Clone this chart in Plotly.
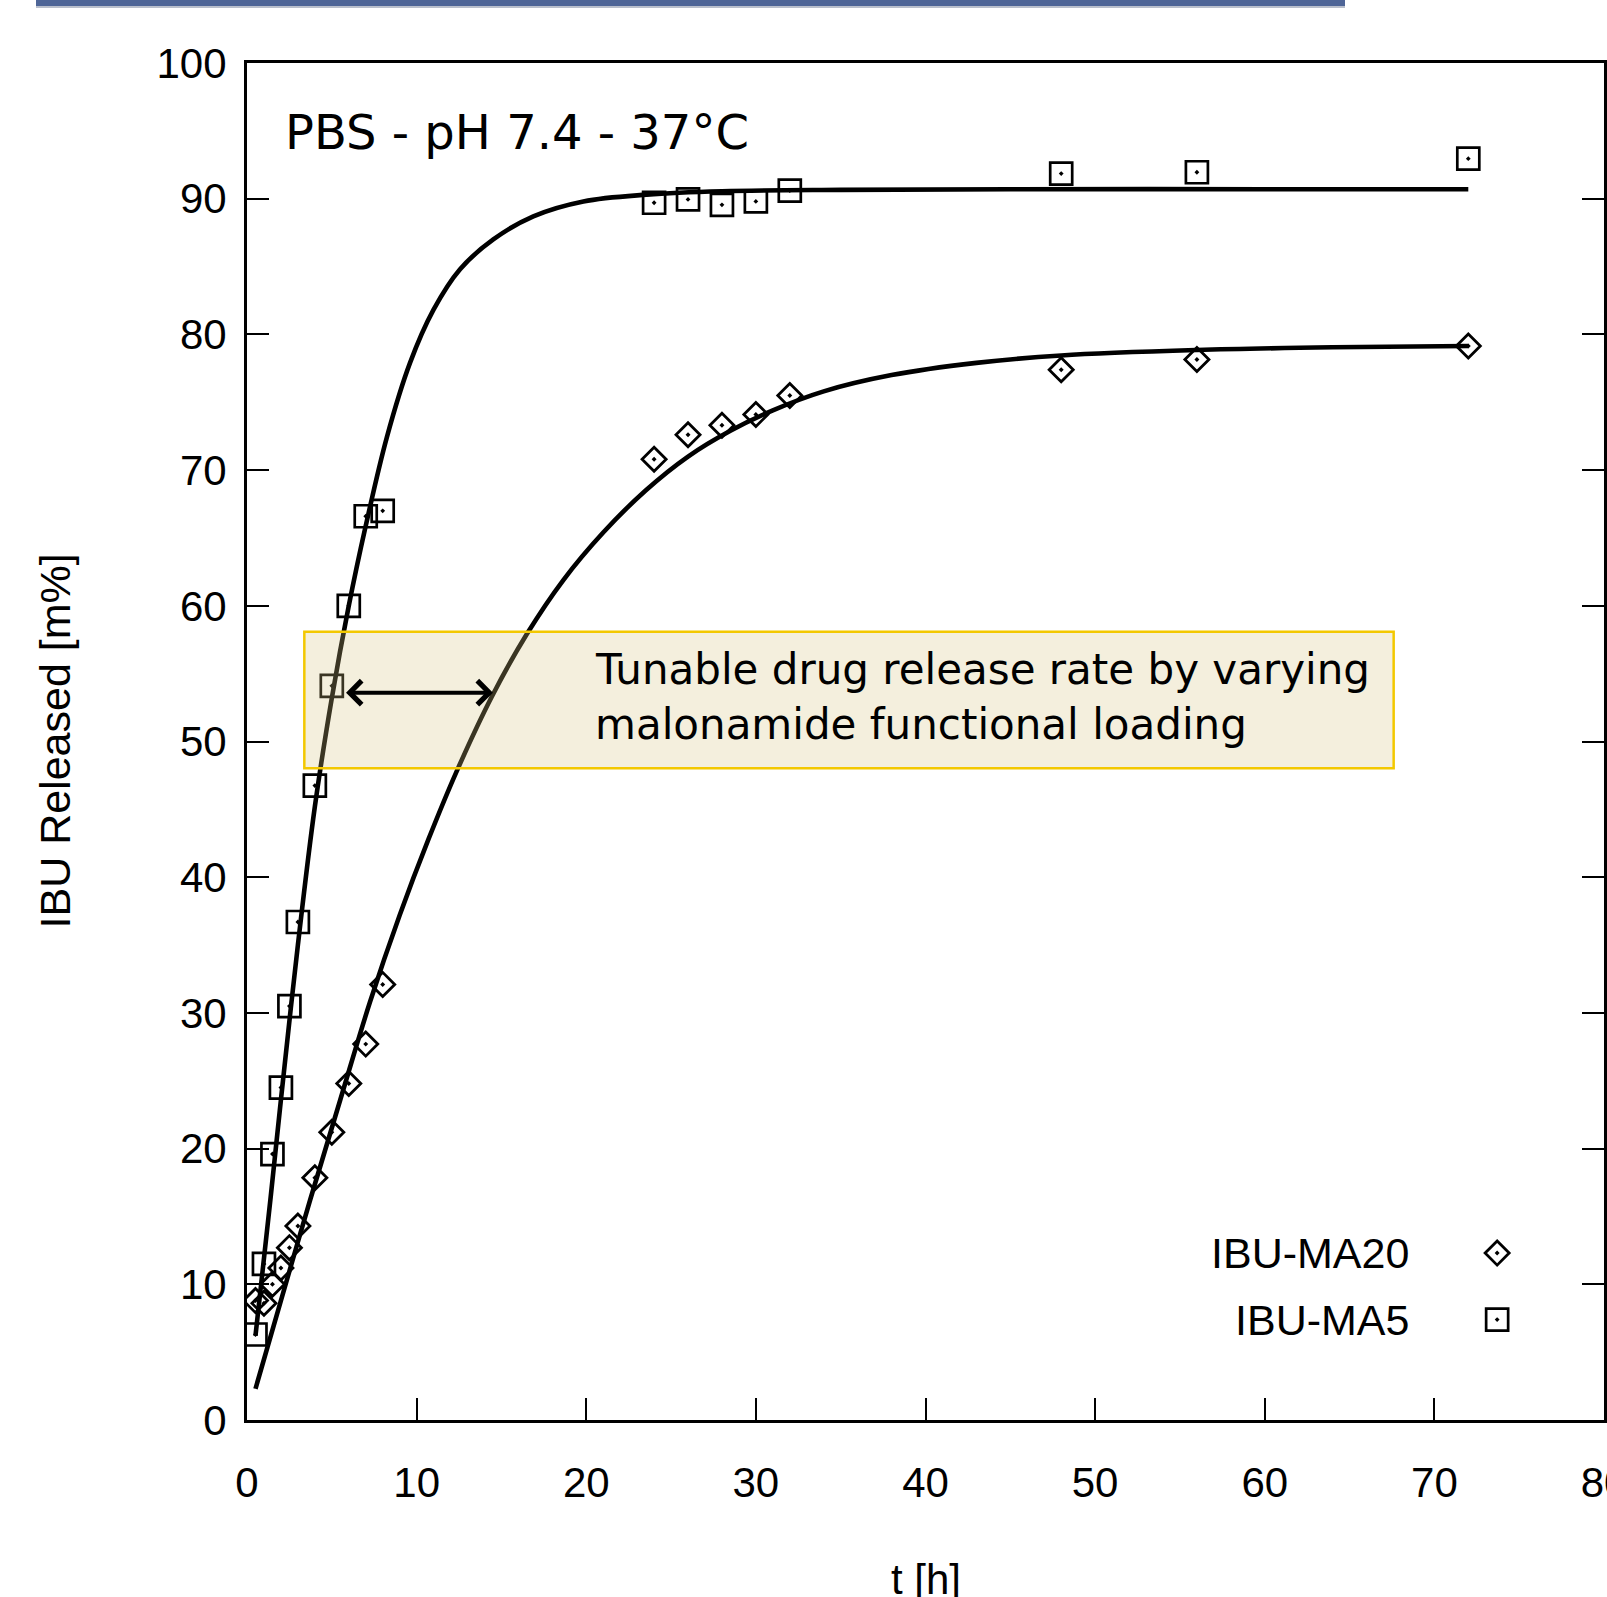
import plotly.graph_objects as go

# ---------------- data ----------------
t_hours = [0.5, 1, 1.5, 2, 2.5, 3, 4, 5, 6, 7, 8, 24, 26, 28, 30, 32, 48, 56, 72]
ibu_ma5 = [6.3, 11.5, 19.6, 24.5, 30.5, 36.7, 46.75, 54.1, 60.0, 66.6, 67.0,
           89.7, 89.95, 89.55, 89.8, 90.6, 91.85, 91.95, 92.95]
ibu_ma20 = [8.8, 8.6, 10.0, 11.2, 12.7, 14.3, 17.85, 21.2, 24.8, 27.7, 32.1,
            70.8, 72.6, 73.3, 74.1, 75.5, 77.4, 78.15, 79.15]

fit_ma5_t = [0.5, 1.38, 2, 3, 4, 5, 6, 7, 8.24, 9.61, 10.99, 12.56, 14.52, 16.88,
             19.83, 23.57, 28, 35, 45, 60, 72]
fit_ma5_y = [6.2, 16.25, 23.6, 35.0, 45.2, 53.2, 60.0, 65.9, 72.4, 77.9, 81.8, 84.8,
             87.0, 88.7, 89.8, 90.3, 90.55, 90.65, 90.7, 90.7, 90.7]
fit_ma20_t = [0.5, 2, 3.73, 5.5, 7.25, 9, 10.7, 12.36, 14.43, 16.49, 18.65, 21,
              23.5, 26, 28.5, 31, 34, 38, 43, 48, 56, 64, 72]
fit_ma20_y = [2.3, 8.8, 16.25, 23.6, 30.8, 37.2, 42.8, 47.8, 53.3, 57.9, 61.9, 65.4,
              68.5, 71.0, 72.9, 74.4, 75.8, 77.0, 77.9, 78.45, 78.85, 79.05, 79.15]

series_names = ["IBU-MA20", "IBU-MA5"]
x_ticks = [0, 10, 20, 30, 40, 50, 60, 70, 80]
y_ticks = [0, 10, 20, 30, 40, 50, 60, 70, 80, 90, 100]
condition_label = "PBS - pH 7.4 - 37°C"
box_lines = ["Tunable drug release rate by varying", "malonamide functional loading"]

# ---------------- style / layout constants ----------------
ARIAL = "Liberation Sans, Arial, sans-serif"
VERD = "DejaVu Sans, Verdana, sans-serif"
W, H = 1607, 1597
ML, MR, MT, MB = 247, 3, 63, 177
PW, PH = W - ML - MR, H - MT - MB

fig = go.Figure()

for tx, ty in [(fit_ma5_t, fit_ma5_y), (fit_ma20_t, fit_ma20_y)]:
    fig.add_trace(go.Scatter(x=tx, y=ty, mode="lines",
                             line=dict(color="black", width=4.6, shape="spline", smoothing=1.0),
                             showlegend=False, hoverinfo="skip"))

sq = dict(symbol="square-open-dot", size=22, color="black", line=dict(color="black", width=2.7))
di = dict(symbol="diamond-open-dot", size=18.5, color="black", line=dict(color="black", width=2.8))

fig.add_trace(go.Scatter(x=t_hours, y=ibu_ma20, mode="markers", marker=di,
                         name=series_names[0], showlegend=False))
fig.add_trace(go.Scatter(x=t_hours, y=ibu_ma5, mode="markers", marker=sq,
                         name=series_names[1], showlegend=False))

# custom legend (text left, symbol right)
LEG_TEXT_X = 68.6
LEG_KEY_X = 73.7
LEG_Y = [12.3, 7.4]
fig.add_trace(go.Scatter(x=[LEG_KEY_X], y=[LEG_Y[0]], mode="markers", marker=di,
                         showlegend=False, hoverinfo="skip"))
fig.add_trace(go.Scatter(x=[LEG_KEY_X], y=[LEG_Y[1]], mode="markers", marker=sq,
                         showlegend=False, hoverinfo="skip"))

annotations = []
for name, yy in zip(series_names, LEG_Y):
    annotations.append(dict(x=LEG_TEXT_X, y=yy, xref="x", yref="y", text=name,
                            showarrow=False, xanchor="right", yanchor="middle",
                            font=dict(family=ARIAL, size=43, color="black")))

annotations.append(dict(x=2.1, y=94.9, xref="x", yref="y", text=condition_label,
                        showarrow=False, xanchor="left", yanchor="middle",
                        font=dict(family=VERD, size=48, color="black")))

annotations.append(dict(x=20.42, y=55.3, xref="x", yref="y", text=box_lines[0],
                        showarrow=False, xanchor="left", yanchor="middle",
                        font=dict(family=VERD, size=42, color="black")))
annotations.append(dict(x=20.42, y=51.25, xref="x", yref="y", text=box_lines[1],
                        showarrow=False, xanchor="left", yanchor="middle",
                        font=dict(family=VERD, size=42, color="black")))

annotations.append(dict(x=14.5, y=53.6, ax=5.75, ay=53.6, xref="x", yref="y",
                        axref="x", ayref="y", text="", showarrow=True,
                        arrowhead=4, startarrowhead=4, arrowside="end+start",
                        arrowsize=1.15, startarrowsize=1.15, arrowwidth=4,
                        arrowcolor="black", standoff=0, startstandoff=0))

annotations.append(dict(x=0, y=0.5, xref="paper", yref="paper", text="IBU Released [m%]",
                        textangle=-90, showarrow=False, xanchor="center", yanchor="middle",
                        xshift=-193, font=dict(family=ARIAL, size=43, color="black")))
annotations.append(dict(x=0.5, y=0, xref="paper", yref="paper", text="t [h]",
                        showarrow=False, xanchor="center", yanchor="top",
                        yshift=-134, font=dict(family=ARIAL, size=42, color="black")))

shapes = [
    dict(type="rect", xref="paper", yref="paper",
         x0=(36 - ML) / PW, x1=(1345 - ML) / PW,
         y0=(H - MB - 8) / PH, y1=(H - MB - 5) / PH,
         fillcolor="#b9bfcc", line=dict(width=0), layer="above"),
    dict(type="rect", xref="paper", yref="paper",
         x0=(36 - ML) / PW, x1=(1345 - ML) / PW,
         y0=(H - MB - 6) / PH, y1=(H - MB + 2) / PH,
         fillcolor="#4e6597", line=dict(width=0), layer="above"),
    dict(type="rect", xref="x", yref="y", x0=3.38, x1=67.6, y0=48.03, y1=58.08,
         fillcolor="rgba(214,196,128,0.27)", line=dict(color="#f3c800", width=2.5),
         layer="above"),
]

fig.update_layout(
    width=W, height=H,
    margin=dict(l=ML, r=MR, t=MT, b=MB),
    paper_bgcolor="white", plot_bgcolor="white",
    annotations=annotations, shapes=shapes,
    showlegend=False,
    font=dict(family=ARIAL, size=42, color="black"),
)
fig.update_xaxes(range=[0, 80], tickvals=x_ticks, ticktext=[str(v) for v in x_ticks],
                 showgrid=False, zeroline=False,
                 showline=True, linecolor="black", linewidth=3, mirror=True,
                 ticks="inside", ticklen=22, tickwidth=2, tickcolor="black",
                 tickfont=dict(family=ARIAL, size=42, color="black"),
                 ticklabelstandoff=24, ticklabeloverflow="allow", automargin=False)
fig.update_yaxes(range=[0, 100], tickvals=y_ticks, ticktext=[str(v) for v in y_ticks],
                 showgrid=False, zeroline=False,
                 showline=True, linecolor="black", linewidth=3, mirror="ticks",
                 ticks="inside", ticklen=22, tickwidth=2, tickcolor="black",
                 tickfont=dict(family=ARIAL, size=42, color="black"),
                 ticklabelstandoff=9, ticklabeloverflow="allow", automargin=False)

fig.write_html("out.html",
               config={"displayModeBar": False},
               post_script="document.body.style.margin='0';document.body.style.overflow='hidden';")
